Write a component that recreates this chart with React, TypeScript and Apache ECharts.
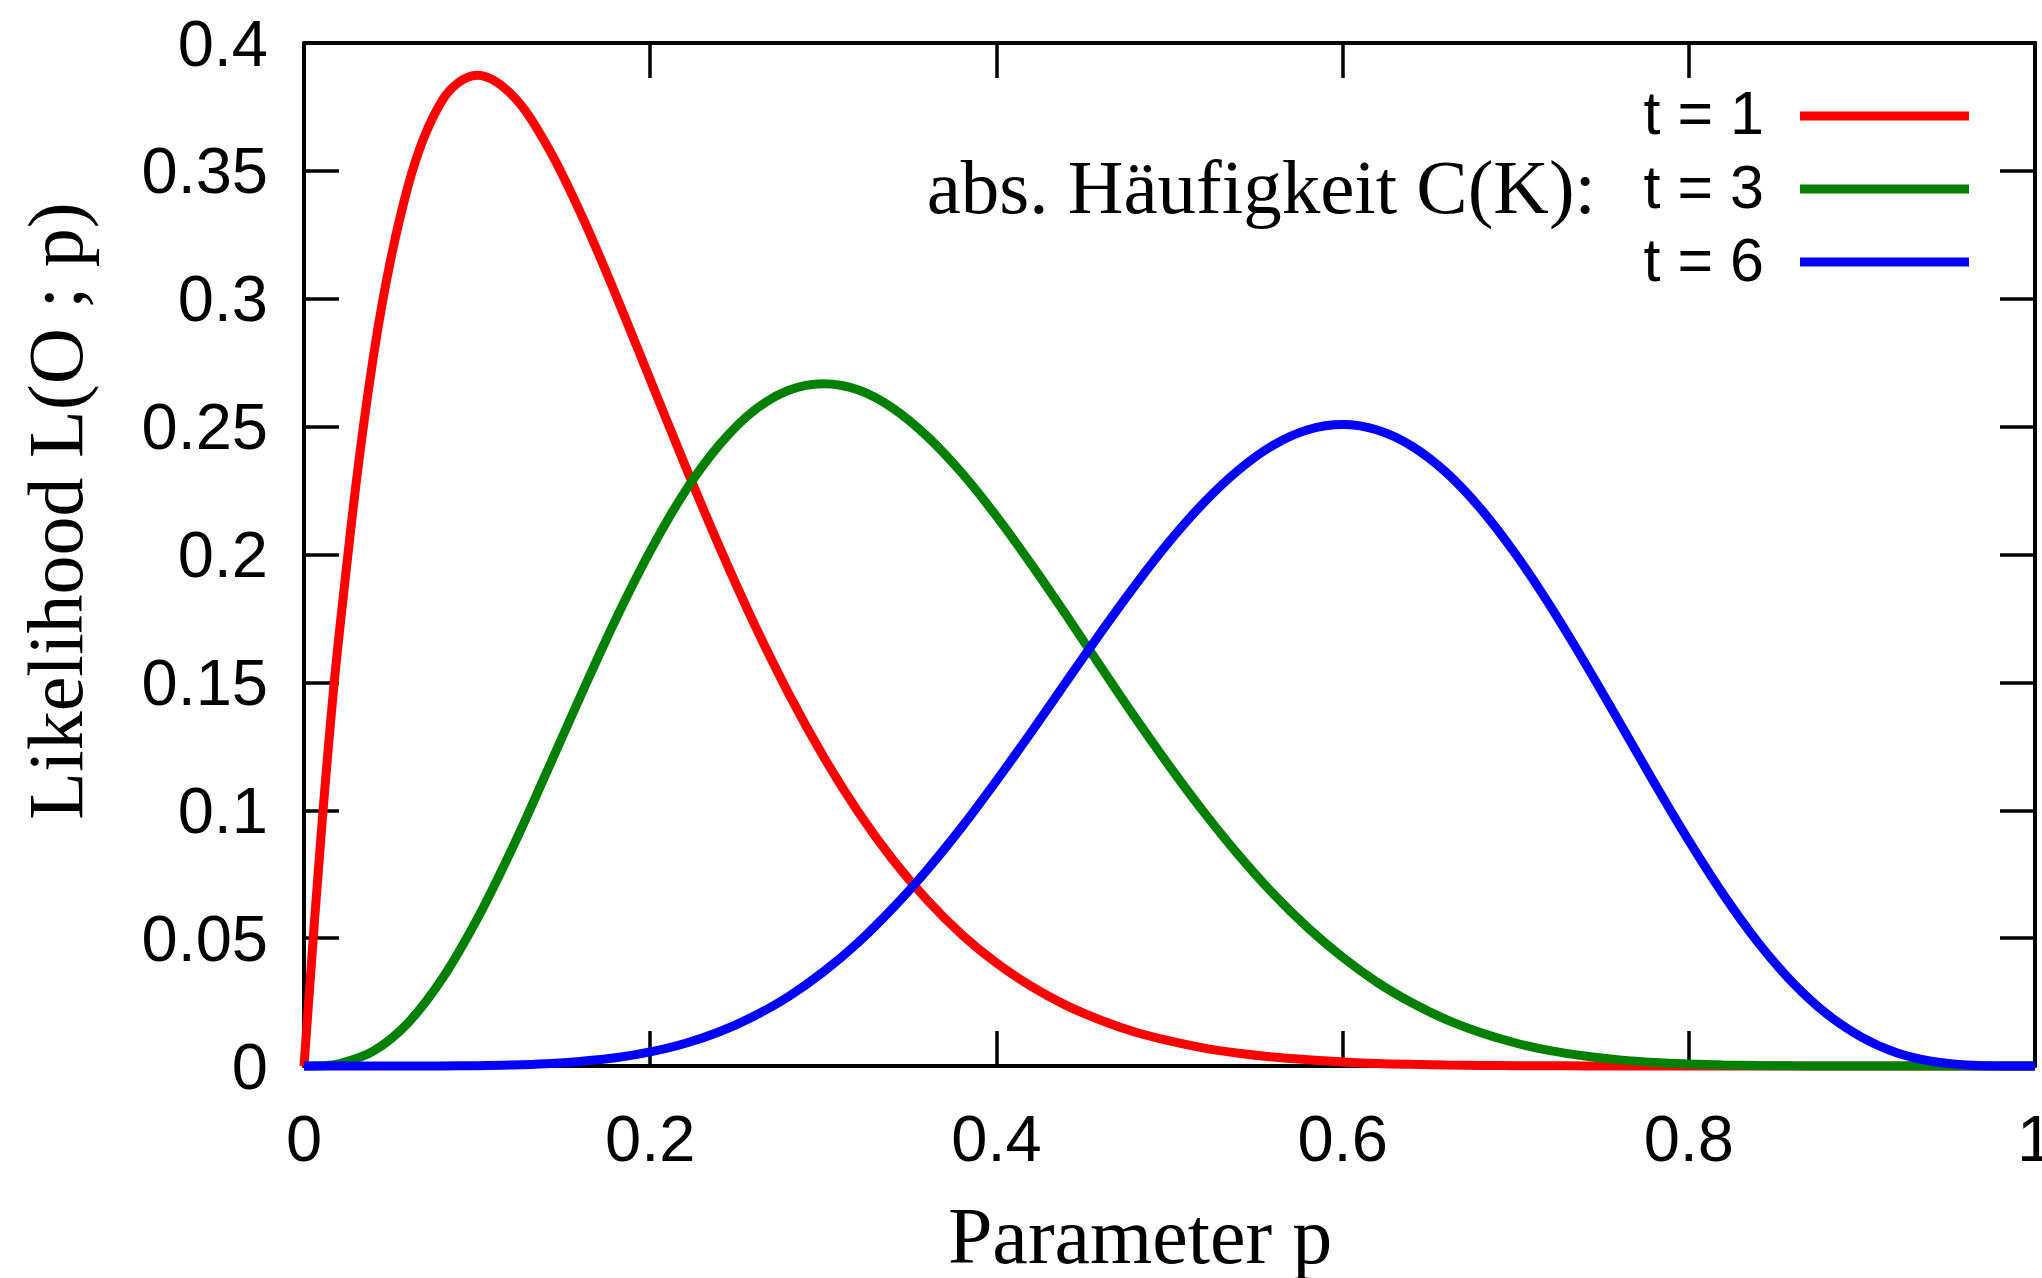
import React, { useEffect, useRef } from "react";
import * as echarts from "echarts";

// Parameter p (x values)
const P = [
  0, 0.01, 0.02, 0.04, 0.06, 0.08, 0.1, 0.12, 0.14, 0.16, 0.18, 0.2, 0.22, 0.24, 0.26, 0.28, 0.3,
  0.32, 0.34, 0.36, 0.38, 0.4, 0.42, 0.44, 0.46, 0.48, 0.5, 0.52, 0.54, 0.56, 0.58, 0.6, 0.62,
  0.64, 0.66, 0.68, 0.7, 0.72, 0.74, 0.76, 0.78, 0.8, 0.82, 0.84, 0.86, 0.88, 0.9, 0.92, 0.94,
  0.96, 0.98, 1,
];

// Likelihood for t = 1
const L_T1 = [
  0, 0.0914, 0.1668, 0.277, 0.3438, 0.3777, 0.3874, 0.3798, 0.3603, 0.3332, 0.3017, 0.2684,
  0.2351, 0.203, 0.173, 0.1456, 0.1211, 0.0995, 0.0808, 0.0649, 0.0514, 0.0403, 0.0312, 0.0238,
  0.018, 0.0133, 0.0098, 0.007, 0.005, 0.0035, 0.0024, 0.0016, 0.001, 0.00065, 0.0004, 0.00024,
  0.00014, 0.00008, 0.00004, 0.00002, 0.00001, 0, 0, 0, 0, 0, 0, 0, 0, 0, 0, 0,
];

// Likelihood for t = 3
const L_T3 = [
  0, 0.0001, 0.0008, 0.0058, 0.0168, 0.0343, 0.0574, 0.0847, 0.1146, 0.145, 0.1745, 0.2013,
  0.2245, 0.2429, 0.2563, 0.2642, 0.2668, 0.2644, 0.2573, 0.2462, 0.2319, 0.215, 0.1963, 0.1766,
  0.1564, 0.1364, 0.1172, 0.0991, 0.0824, 0.0673, 0.054, 0.0425, 0.0327, 0.0247, 0.0181, 0.013,
  0.009, 0.006, 0.0039, 0.0024, 0.0014, 0.0008, 0.0004, 0.0002, 0.00008, 0.00003, 0.00001, 0, 0,
  0, 0, 0,
];

// Likelihood for t = 6
const L_T6 = [
  0, 0, 0, 0, 0.00001, 0.00004, 0.00014, 0.00038, 0.00087, 0.0018, 0.0032, 0.0055, 0.0088,
  0.0134, 0.0195, 0.0272, 0.0368, 0.0482, 0.0616, 0.0767, 0.0934, 0.1115, 0.1304, 0.1499, 0.1692,
  0.1878, 0.2051, 0.2204, 0.2331, 0.2428, 0.2488, 0.2508, 0.2487, 0.2424, 0.232, 0.2177, 0.2001,
  0.1798, 0.1576, 0.1343, 0.1108, 0.0881, 0.067, 0.0483, 0.0326, 0.0202, 0.0112, 0.0052, 0.0019,
  0.0004, 0.00003, 0,
];

const SERIES_NAMES = ["t = 1", "t = 3", "t = 6"];
const SERIES_COLORS = ["#ff0000", "#008000", "#0000ff"];
const LEGEND_TITLE = "abs. Häufigkeit C(K):";
const X_TITLE = "Parameter p";
const Y_TITLE = "Likelihood L(O ; p)";

export default function App() {
  const ref = useRef<HTMLDivElement>(null);

  useEffect(() => {
    if (!ref.current) return;
    const chart = echarts.init(ref.current, null, { renderer: "svg" });
    const sans = "'Liberation Sans', Arial, Helvetica, sans-serif";
    const serif = "'Liberation Serif', 'Times New Roman', serif";
    const lineStyle = { color: "#000", width: 4 };
    const tick = { show: true, inside: true, length: 35, lineStyle: { color: "#000", width: 3.5 } };
    const allData = [L_T1, L_T3, L_T6];

    const textRows = [113, 187, 260];
    const lineRows = [116, 189, 262];
    const graphic: any[] = [
      {
        type: "text",
        x: 1140,
        y: 1236,
        style: { text: X_TITLE, fontFamily: serif, fontSize: 80, fill: "#000", align: "center", verticalAlign: "middle" },
      },
      {
        type: "text",
        x: 55,
        y: 511,
        rotation: Math.PI / 2,
        style: { text: Y_TITLE, fontFamily: serif, fontSize: 78, fill: "#000", align: "center", verticalAlign: "middle" },
      },
      {
        type: "text",
        x: 1596,
        y: 187,
        style: { text: LEGEND_TITLE, fontFamily: serif, fontSize: 77, fill: "#000", align: "right", verticalAlign: "middle" },
      },
    ];
    SERIES_NAMES.forEach((name, i) => {
      graphic.push({
        type: "text",
        x: 1764,
        y: textRows[i],
        style: { text: name, fontFamily: sans, fontSize: 61, fill: "#000", align: "right", verticalAlign: "middle" },
      });
      graphic.push({
        type: "line",
        shape: { x1: 1800, y1: lineRows[i], x2: 1969, y2: lineRows[i] },
        style: { stroke: SERIES_COLORS[i], lineWidth: 9 },
      });
    });

    chart.setOption({
      animation: false,
      backgroundColor: "#ffffff",
      grid: {
        left: 304,
        right: 7,
        top: 43,
        bottom: 212,
        containLabel: false,
        outerBoundsMode: "none",
      },
      xAxis: [
        {
          type: "value",
          min: 0,
          max: 1,
          interval: 0.2,
          position: "bottom",
          axisLine: { show: true, onZero: false, lineStyle },
          axisTick: tick,
          splitLine: { show: false },
          axisLabel: { fontFamily: sans, fontSize: 65, color: "#000", margin: 40 },
        },
        {
          type: "value",
          min: 0,
          max: 1,
          interval: 0.2,
          position: "top",
          axisLine: { show: true, onZero: false, lineStyle },
          axisTick: tick,
          splitLine: { show: false },
          axisLabel: { show: false },
        },
      ],
      yAxis: [
        {
          type: "value",
          min: 0,
          max: 0.4,
          interval: 0.05,
          position: "left",
          axisLine: { show: true, onZero: false, lineStyle },
          axisTick: tick,
          splitLine: { show: false },
          axisLabel: { fontFamily: sans, fontSize: 65, color: "#000", margin: 36 },
        },
        {
          type: "value",
          min: 0,
          max: 0.4,
          interval: 0.05,
          position: "right",
          axisLine: { show: true, onZero: false, lineStyle },
          axisTick: tick,
          splitLine: { show: false },
          axisLabel: { show: false },
        },
      ],
      series: SERIES_NAMES.map((name, i) => ({
        name,
        type: "line",
        xAxisIndex: 0,
        yAxisIndex: 0,
        data: P.map((p, j) => [p, allData[i][j]]),
        showSymbol: false,
        smooth: 0.35,
        clip: false,
        lineStyle: { color: SERIES_COLORS[i], width: 9 },
        itemStyle: { color: SERIES_COLORS[i] },
      })),
      graphic,
    });

    return () => chart.dispose();
  }, []);

  return (
    <div
      ref={ref}
      style={{ position: "fixed", left: 0, top: 0, width: 2042, height: 1278, background: "#fff" }}
    />
  );
}
